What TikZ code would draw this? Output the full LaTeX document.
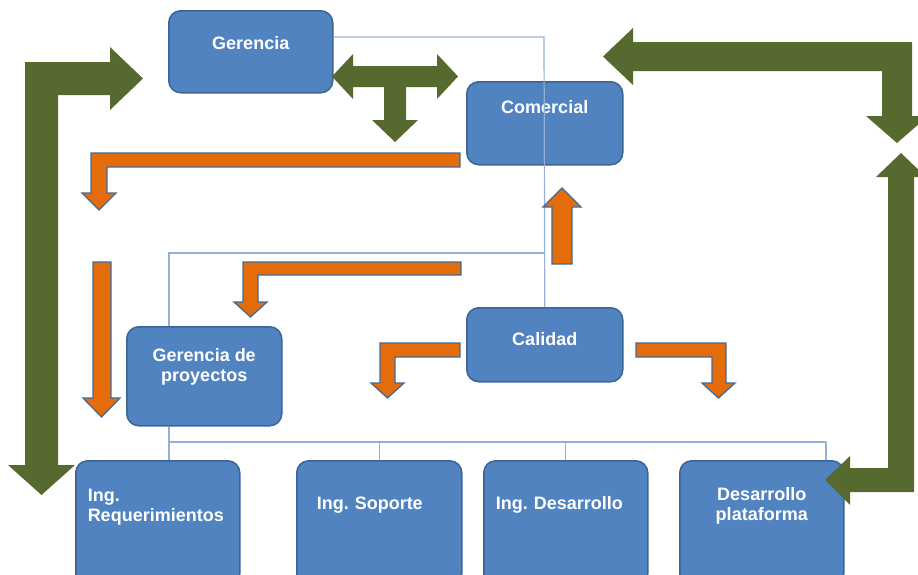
\documentclass[tikz,border=0pt]{standalone}
\usepackage{fontspec}
\setmainfont{Liberation Sans}
\definecolor{unitblue}{HTML}{5083BF}
\definecolor{unitedge}{HTML}{3A6597}
\definecolor{treeline}{HTML}{95B0D4}
\definecolor{flowgreen}{HTML}{56692E}
\definecolor{floworange}{HTML}{E46C0A}
\definecolor{flowedge}{HTML}{3F6B9E}

\tikzset{
  unit/.style={draw=unitedge, fill=unitblue, line width=1.5pt, rounded corners=12pt,
    text=white, font=\bfseries\fontsize{18}{20}\selectfont, anchor=north west,
    inner xsep=0pt, inner ysep=0pt, align=center},
  leftunit/.style={unit, align=left},
  bigflow/.style={fill=flowgreen},
  smallflow/.style={fill=floworange, draw=flowedge, line width=1.3pt},
  tree/.style={draw=treeline, line width=1.2pt}
}

\begin{document}
\begin{tikzpicture}[x=1pt, y=-1pt]
  \useasboundingbox (0,0) rectangle (918,574);
  \clip (0,0) rectangle (918,574);

  % the units
  \node[unit, minimum width=164, text height=39, text depth=43] (ger) at (168,10) {Gerencia};
  \node[unit, minimum width=156, text height=32, text depth=51] (com) at (466,81) {Comercial};
  \node[unit, minimum width=156, text height=38, text depth=36] (cal) at (466,307) {Calidad};
  \node[unit, minimum width=155, text height=55, text depth=44] (gdp) at (126,326) {Gerencia de\\proyectos};
  \node[leftunit, text width=140, inner xsep=12, text height=41, text depth=84] (req) at (75,460) {Ing.\\Requerimientos};
  \node[leftunit, text width=125, inner xsep=20, text height=49, text depth=76] (sop) at (296,460) {Ing.\ Soporte};
  \node[leftunit, text width=140, inner xsep=12, text height=49, text depth=76] (des) at (483,460) {Ing.\ Desarrollo};
  \node[unit, minimum width=164, text height=60, text depth=65] (pla) at (679,460) {Desarrollo\\plataforma};

  % org lines
  \coordinate (t1) at (544,37);
  \coordinate (t2) at (544,253);
  \coordinate (t3) at (169,253);
  \coordinate (t4) at (169,442);
  \coordinate (t5) at (826,442);
  \draw[tree] (ger.east |- t1) -- (t1) -- (cal.north);
  \draw[tree] (t2) -- (t3) -- (t3 |- gdp.north);
  \draw[tree] (t3 |- gdp.south) -- (t4) -- (t5);
  \draw[tree] (t4) -- (t4 |- req.north);
  \foreach \u in {sop,des}
    \draw[tree] (\u.north |- t4) -- (\u.north);
  \draw[tree] (t5) -- (t5 |- pla.north);

  % green block arrows
  \fill[bigflow] (58,465) -- (58,95) -- (110,95) -- (110,110) -- (143,78.5) -- (110,47)
    -- (110,62) -- (25,62) -- (25,465) -- (8,465) -- (41.5,495) -- (75,465) -- cycle;
  \fill[bigflow] (332,76.5) -- (353,54) -- (353,66) -- (437,66) -- (437,54) -- (458,76.5)
    -- (437,99) -- (437,87) -- (406,87) -- (406,120) -- (418,120) -- (395,142)
    -- (372,120) -- (384,120) -- (384,87) -- (353,87) -- (353,99) -- cycle;
  \fill[bigflow] (603,56.5) -- (633,28) -- (633,42) -- (912,42) -- (912,116) -- (928,116)
    -- (897,143) -- (866,116) -- (882,116) -- (882,71) -- (633,71) -- (633,85) -- cycle;
  \fill[bigflow] (901,153) -- (926,177) -- (914,177) -- (914,492) -- (850,492) -- (850,505)
    -- (825,480) -- (850,456) -- (850,468) -- (888,468) -- (888,177) -- (876,177) -- cycle;

  % orange flow arrows
  \draw[smallflow] (460,153) -- (91,153) -- (91,193) -- (82,193) -- (99,210) -- (116,193)
    -- (107,193) -- (107,167) -- (460,167) -- cycle;
  \draw[smallflow] (93,262) -- (111,262) -- (111,398) -- (120,398) -- (101.5,417)
    -- (83,398) -- (93,398) -- cycle;
  \draw[smallflow] (461,262) -- (243,262) -- (243,302) -- (234,302) -- (250.5,317)
    -- (267,302) -- (258,302) -- (258,275) -- (461,275) -- cycle;
  \draw[smallflow] (460,343) -- (380,343) -- (380,383) -- (371,383) -- (387.5,398)
    -- (404,383) -- (395,383) -- (395,357) -- (460,357) -- cycle;
  \draw[smallflow] (636,343) -- (726,343) -- (726,383) -- (735,383) -- (718.5,398)
    -- (702,383) -- (712,383) -- (712,357) -- (636,357) -- cycle;
  \draw[smallflow] (552,264) -- (552,207) -- (543,207) -- (562,188) -- (581,207)
    -- (572,207) -- (572,264) -- cycle;
\end{tikzpicture}
\end{document}
